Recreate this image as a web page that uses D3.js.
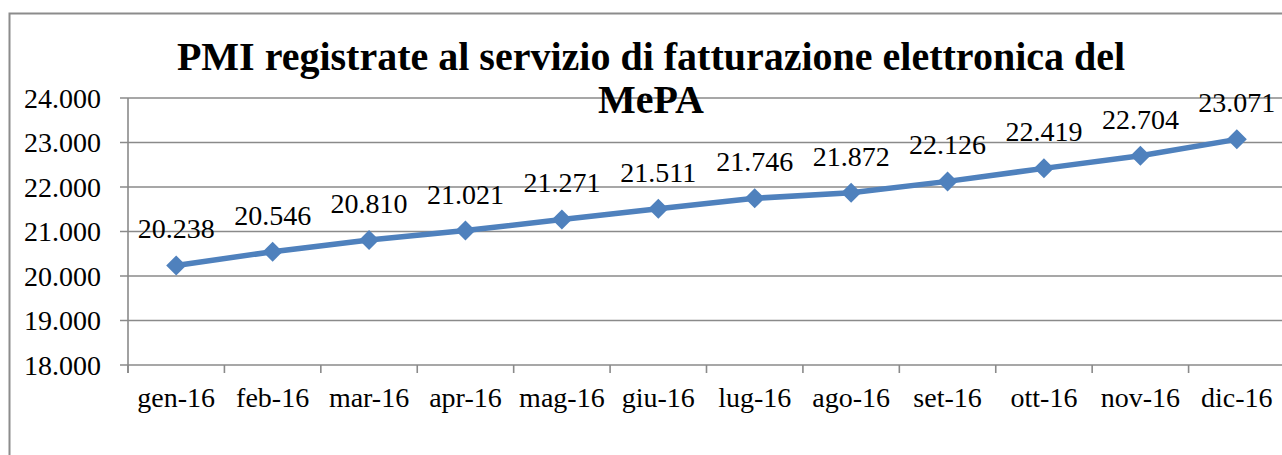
<!DOCTYPE html>
<html>
<head>
<meta charset="utf-8">
<script src="https://cdn.jsdelivr.net/npm/d3@7"></script>
<style>
  html, body { margin: 0; padding: 0; background: #fff; overflow: hidden; }
  text { font-family: "Liberation Serif", "Times New Roman", serif; fill: #000; }
</style>
</head>
<body>
<div id="chart"></div>
<script>
// months and counts
const months = ['gen-16', 'feb-16', 'mar-16', 'apr-16', 'mag-16', 'giu-16',
                'lug-16', 'ago-16', 'set-16', 'ott-16', 'nov-16', 'dic-16'];
const pmi = [20238, 20546, 20810, 21021, 21271, 21511,
             21746, 21872, 22126, 22419, 22704, 23071];
const yTicks = [18000, 19000, 20000, 21000, 22000, 23000, 24000];
const titleLines = ['PMI registrate al servizio di fatturazione elettronica del', 'MePA'];

var width = 1282, height = 455;
var fmt = d3.formatLocale({decimal: ',', thousands: '.', grouping: [3], currency: ['', '€']}).format(',d');

var svg = d3.select('#chart').append('svg')
    .attr('width', width).attr('height', height);

// outer chart border
svg.append('rect')
    .attr('x', 9.5).attr('y', 13.5)
    .attr('width', 1300).attr('height', 470)
    .attr('fill', 'none').attr('stroke', '#8c8c8c').attr('stroke-width', 2);

var x = d3.scaleBand().domain(months).range([128, 1285]);
var y = d3.scaleLinear().domain([18000, 24000]).range([365, 98]);

// gridlines
svg.append('g')
    .selectAll('line')
    .data(yTicks)
    .enter().append('line')
    .attr('x1', 120).attr('x2', width)
    .attr('y1', d => y(d)).attr('y2', d => y(d))
    .attr('stroke', '#8a8a8a').attr('stroke-width', 1.6);

// y axis line
svg.append('line')
    .attr('x1', 128).attr('x2', 128)
    .attr('y1', y(24000)).attr('y2', y(18000) + 8)
    .attr('stroke', '#8a8a8a').attr('stroke-width', 1.6);

// x ticks at category boundaries
svg.append('g')
    .selectAll('line')
    .data(months)
    .enter().append('line')
    .attr('x1', d => x(d)).attr('x2', d => x(d))
    .attr('y1', y(18000)).attr('y2', y(18000) + 8)
    .attr('stroke', '#8a8a8a').attr('stroke-width', 1.6);

// y labels
svg.append('g')
    .selectAll('text')
    .data(yTicks)
    .enter().append('text')
    .attr('x', 101).attr('y', d => y(d))
    .attr('dy', '0.35em')
    .attr('text-anchor', 'end')
    .style('font-size', '28px')
    .text(d => fmt(d));

// x labels
svg.append('g')
    .selectAll('text')
    .data(months)
    .enter().append('text')
    .attr('x', d => x(d) + x.bandwidth() / 2).attr('y', 407)
    .attr('text-anchor', 'middle')
    .style('font-size', '28px')
    .text(d => d);

// series
var pts = months.map((m, i) => ({m: m, v: pmi[i]}));
var line = d3.line()
    .x(d => x(d.m) + x.bandwidth() / 2)
    .y(d => y(d.v));

svg.append('path')
    .datum(pts)
    .attr('d', line)
    .attr('fill', 'none')
    .attr('stroke', '#4f81bd')
    .attr('stroke-width', 5.5)
    .attr('stroke-linejoin', 'round');

svg.append('g')
    .selectAll('path')
    .data(pts)
    .enter().append('path')
    .attr('transform', d => 'translate(' + (x(d.m) + x.bandwidth() / 2) + ',' + y(d.v) + ') rotate(45)')
    .attr('d', d3.symbol().type(d3.symbolSquare).size(200))
    .attr('fill', '#4f81bd');

// data labels
svg.append('g')
    .selectAll('text')
    .data(pts)
    .enter().append('text')
    .attr('x', d => x(d.m) + x.bandwidth() / 2)
    .attr('y', d => y(d.v) - 27)
    .attr('text-anchor', 'middle')
    .style('font-size', '28px')
    .text(d => fmt(d.v));

// title
svg.append('g')
    .selectAll('text')
    .data(titleLines)
    .enter().append('text')
    .attr('x', 651).attr('y', (d, i) => 70 + i * 43)
    .attr('text-anchor', 'middle')
    .style('font-size', '40px')
    .style('font-weight', 'bold')
    .text(d => d);
</script>
</body>
</html>
